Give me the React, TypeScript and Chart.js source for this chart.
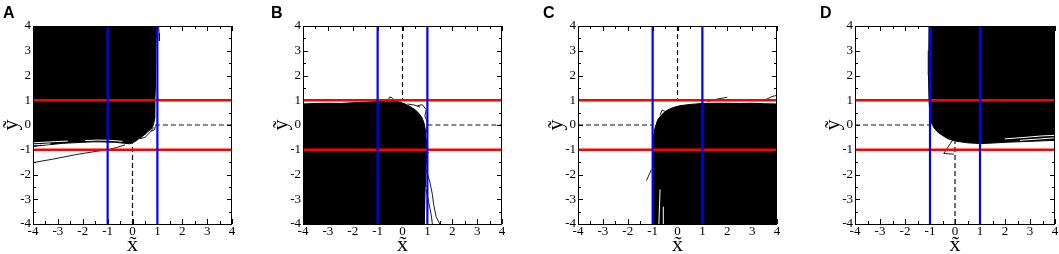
import React, { useEffect, useRef } from "react";
import { Chart, registerables } from "chart.js";

Chart.register(...registerables);

// ---------- shared axis data ----------
const TICK_VALUES = [-4, -3, -2, -1, 0, 1, 2, 3, 4];
const TICK_LABELS = ["-4", "-3", "-2", "-1", "0", "1", "2", "3", "4"];
const MINOR_TICKS = [-3.5, -2.5, -1.5, -0.5, 0.5, 1.5, 2.5, 3.5];
const RED_Y = [1, -1];
const BLUE_X = [-1, 1];
const X_TITLE = "x\u0303";
const Y_TITLE = "y\u0303";
const PANEL_LETTERS = ["A", "B", "C", "D"];

// ---------- panel A ----------
const A_FILL: number[][] = [
  [-4, 4], [0.96, 4], [0.95, 3.5], [0.94, 3], [0.93, 2.5], [0.92, 2], [0.91, 1.5], [0.9, 1],
  [0.9, 0.5], [0.88, 0.25], [0.85, 0.05], [0.8, -0.1], [0.7, -0.2], [0.62, -0.26], [0.55, -0.34],
  [0.45, -0.42], [0.35, -0.5], [0.25, -0.56], [0.15, -0.64], [0.05, -0.7], [-0.1, -0.76],
  [-0.3, -0.74], [-0.5, -0.72], [-0.7, -0.7], [-1, -0.69], [-1.3, -0.68], [-1.6, -0.68],
  [-2, -0.7], [-2.4, -0.72], [-2.8, -0.74], [-3.2, -0.78], [-3.6, -0.82], [-4, -0.87],
];
const A_WHITE: number[][][] = [
  [[-4, -0.72], [-3.6, -0.7], [-3.1, -0.67], [-2.6, -0.65]],
  [[-4, -0.8], [-3.7, -0.79], [-3.3, -0.76]],
  [[-1.9, -0.63], [-1.4, -0.61], [-0.9, -0.62], [-0.4, -0.66]],
];
const A_STRAY: number[][][] = [
  [[-4, -1.52], [-3.2, -1.38], [-2.3, -1.2], [-1.5, -1.07], [-1, -1.0], [-0.6, -0.9], [-0.3, -0.8]],
  [[1.05, 4], [1.07, 3.7], [1.08, 3.4]],
  [[0.3, -0.55], [0.5, -0.5], [0.7, -0.3], [0.85, -0.1]],
  [[0.75, -0.25], [0.88, -0.2], [0.92, -0.05]],
];
const A_DASH: number[][][] = [
  [[0, -4], [0, -0.74]],
  [[0.9, 0], [4, 0]],
];

// ---------- panel B ----------
const B_FILL: number[][] = [
  [-4, -4], [-4, 0.85], [-3.5, 0.87], [-3, 0.88], [-2.5, 0.87], [-2, 0.9], [-1.5, 0.92],
  [-1, 0.95], [-0.7, 0.98], [-0.5, 1.0], [-0.3, 0.97], [-0.1, 0.92], [0.1, 0.85], [0.3, 0.75],
  [0.5, 0.62], [0.65, 0.48], [0.78, 0.3], [0.86, 0.1], [0.92, -0.2], [0.95, -0.6], [0.96, -1.0],
  [0.95, -1.5], [0.93, -2], [0.91, -2.5], [0.9, -3], [0.88, -3.5], [0.87, -4],
];
const B_WHITE: number[][][] = [];
const B_STRAY: number[][][] = [
  [[-0.6, 0.95], [-0.52, 1.13], [-0.42, 1.1], [-0.3, 0.97]],
  [[0.2, 0.85], [0.5, 0.8], [0.7, 0.72]],
  [[0.6, 0.78], [0.8, 0.82], [0.95, 0.62], [0.9, 0.36], [1.0, 0.12], [0.97, -0.3]],
  [[0.95, -1.0], [1.05, -1.12]],
  [[0.95, -1.8], [1.1, -2.3], [1.2, -2.8], [1.25, -3.2], [1.35, -3.7], [1.5, -4]],
  [[0.95, -2.6], [1.05, -3.1], [1.15, -3.6], [1.2, -4]],
];
const B_DASH: number[][][] = [
  [[0, 4], [0, 1]],
  [[1, 0], [4, 0]],
];

// ---------- panel C ----------
const C_FILL: number[][] = [
  [4, -4], [-0.95, -4], [-0.97, -3], [-0.98, -2], [-0.97, -1], [-0.95, -0.5], [-0.9, -0.1],
  [-0.8, 0.2], [-0.65, 0.4], [-0.45, 0.58], [-0.2, 0.7], [0.1, 0.78], [0.5, 0.83], [1, 0.87],
  [1.5, 0.88], [2, 0.88], [2.5, 0.87], [3, 0.88], [3.5, 0.86], [4, 0.85],
];
const C_WHITE: number[][][] = [
  [[-0.75, -4], [-0.72, -3.2], [-0.7, -2.6]],
  [[-0.55, -4], [-0.57, -3.3]],
];
const C_STRAY: number[][][] = [
  [[1.2, 0.95], [1.6, 1.05], [2.0, 1.12]],
  [[3.5, 1.0], [3.8, 1.15], [4, 1.2]],
  [[-1.25, -2.25], [-1.05, -1.8]],
  [[-0.7, 0.4], [-0.62, 0.6], [-0.5, 0.55]],
];
const C_DASH: number[][][] = [
  [[-4, 0], [-1, 0]],
  [[0, 4], [0, 1]],
];

// ---------- panel D ----------
const D_FILL: number[][] = [
  [-1.06, 4], [4, 4], [4, -0.62], [3.5, -0.64], [3, -0.66], [2.5, -0.68], [2, -0.7],
  [1.5, -0.73], [1, -0.75], [0.5, -0.72], [0, -0.65], [-0.3, -0.55], [-0.5, -0.42],
  [-0.7, -0.28], [-0.85, -0.1], [-0.95, 0.1], [-1.0, 0.4], [-1.04, 1], [-1.06, 2], [-1.07, 3],
];
const D_WHITE: number[][][] = [
  [[2, -0.56], [2.8, -0.5], [3.5, -0.44], [4, -0.42]],
  [[2.6, -0.62], [3.3, -0.57], [4, -0.52]],
];
const D_STRAY: number[][][] = [
  [[-0.1, -0.62], [-0.45, -1.15], [-0.05, -1.18]],
];
const D_DASH: number[][][] = [
  [[-4, 0], [-1, 0]],
  [[0, -4], [0, -0.68]],
];

// ---------- layout ----------
const PANEL_PLOT_LEFT = [33, 303, 578, 855];
const PANEL_PLOT_RIGHT = [232, 502, 777, 1055];
const LETTER_LEFT = [3, 271, 543, 820];
const Y_AXIS_W = 33;
const X_AXIS_H = 30;
const PLOT_TOP = 26;
const H = 254;

const SERIF = "Liberation Serif";

Chart.defaults.font.family = SERIF;
Chart.defaults.font.size = 13;
Chart.defaults.color = "#000";

const PANELS = [
  { fill: A_FILL, white: A_WHITE, stray: A_STRAY, dash: A_DASH },
  { fill: B_FILL, white: B_WHITE, stray: B_STRAY, dash: B_DASH },
  { fill: C_FILL, white: C_WHITE, stray: C_STRAY, dash: C_DASH },
  { fill: D_FILL, white: D_WHITE, stray: D_STRAY, dash: D_DASH },
];

const toPts = (arr: number[][]) => arr.map(([x, y]) => ({ x, y }));

const framePlugin = {
  id: "frameTicks",
  beforeDatasetsDraw(chart: any) {
    const { ctx, chartArea, scales } = chart;
    const { left, right, top, bottom } = chartArea;
    const xs = scales.x;
    const ys = scales.y;
    ctx.save();
    ctx.strokeStyle = "#000";
    ctx.lineWidth = 1;
    ctx.beginPath();
    const drawTick = (v: number, len: number) => {
      const px = Math.round(xs.getPixelForValue(v)) + 0.5;
      ctx.moveTo(px, bottom);
      ctx.lineTo(px, bottom - len);
      ctx.moveTo(px, top);
      ctx.lineTo(px, top + len);
      const py = Math.round(ys.getPixelForValue(v)) + 0.5;
      ctx.moveTo(left, py);
      ctx.lineTo(left + len, py);
      ctx.moveTo(right, py);
      ctx.lineTo(right - len, py);
    };
    TICK_VALUES.forEach((v) => drawTick(v, 5));
    MINOR_TICKS.forEach((v) => drawTick(v, 3));
    ctx.stroke();
    ctx.restore();
  },
  afterDatasetsDraw(chart: any) {
    const { ctx, chartArea } = chart;
    const { left, right, top, bottom } = chartArea;
    ctx.save();
    ctx.strokeStyle = "#000";
    ctx.lineWidth = 1;
    ctx.strokeRect(left + 0.5, top + 0.5, right - left - 1, bottom - top);
    ctx.restore();
  },
};

function Panel({ idx }: { idx: number }) {
  const ref = useRef<HTMLCanvasElement | null>(null);
  const plotLeft = PANEL_PLOT_LEFT[idx];
  const plotRight = PANEL_PLOT_RIGHT[idx];
  const canvasLeft = plotLeft - Y_AXIS_W;
  const padRight = Math.min(4, 1059 - plotRight);
  const width = plotRight - canvasLeft + padRight;

  useEffect(() => {
    const p = PANELS[idx];
    const datasets: any[] = [];
    BLUE_X.forEach((v) =>
      datasets.push({
        data: toPts([[v, -4], [v, 4]]),
        borderColor: "#0000ff",
        borderWidth: 2.2,
        showLine: true,
        fill: false,
        pointRadius: 0,
        order: 0,
      })
    );
    RED_Y.forEach((v) =>
      datasets.push({
        data: toPts([[-4, v], [4, v]]),
        borderColor: "#ff0000",
        borderWidth: 2.6,
        showLine: true,
        fill: false,
        pointRadius: 0,
        order: 1,
      })
    );
    p.dash.forEach((seg) =>
      datasets.push({
        data: toPts(seg),
        borderColor: "#111",
        borderWidth: 1.2,
        borderDash: [5, 3],
        showLine: true,
        fill: false,
        pointRadius: 0,
        order: 2,
      })
    );
    p.white.forEach((seg) =>
      datasets.push({
        data: toPts(seg),
        borderColor: "#ffffff",
        borderWidth: 1,
        showLine: true,
        fill: false,
        pointRadius: 0,
        order: 3,
      })
    );
    p.stray.forEach((seg) =>
      datasets.push({
        data: toPts(seg),
        borderColor: "#000",
        borderWidth: 0.9,
        showLine: true,
        fill: false,
        pointRadius: 0,
        order: 4,
      })
    );
    datasets.push({
      data: toPts(p.fill),
      borderColor: "#000",
      backgroundColor: "#000",
      borderWidth: 1,
      showLine: true,
      fill: "shape",
      pointRadius: 0,
      order: 5,
    });

    const tickFont = { family: SERIF, size: 13 };
    const titleFont = { family: SERIF, size: 22 };
    const chart = new Chart(ref.current as HTMLCanvasElement, {
      type: "scatter",
      data: { datasets },
      plugins: [framePlugin],
      options: {
        responsive: false,
        animation: false,
        devicePixelRatio: 1,
        layout: { padding: { left: 0, right: padRight, top: PLOT_TOP, bottom: 0 } },
        plugins: {
          legend: { display: false },
          tooltip: { enabled: false },
          colors: { enabled: false },
        } as any,
        elements: { line: { tension: 0 } },
        scales: {
          x: {
            type: "linear",
            min: -4,
            max: 4,
            afterBuildTicks: (s: any) => {
              s.ticks = TICK_VALUES.map((v) => ({ value: v }));
            },
            afterFit: (s: any) => {
              s.height = X_AXIS_H;
            },
            ticks: {
              font: tickFont,
              color: "#000",
              padding: 0,
              maxRotation: 0,
              autoSkip: false,
              callback: (_v: any, i: number) => TICK_LABELS[i],
            },
            grid: { display: false, drawTicks: false },
            border: { display: false },
            title: { display: true, text: X_TITLE, font: titleFont, color: "#000", padding: { top: 0, bottom: -4 } },
          },
          y: {
            type: "linear",
            min: -4,
            max: 4,
            afterBuildTicks: (s: any) => {
              s.ticks = TICK_VALUES.map((v) => ({ value: v }));
            },
            afterFit: (s: any) => {
              s.width = Y_AXIS_W;
            },
            ticks: {
              font: tickFont,
              color: "#000",
              padding: 2,
              autoSkip: false,
              callback: (_v: any, i: number) => TICK_LABELS[i],
            },
            grid: { display: false, drawTicks: false },
            border: { display: false },
            title: { display: true, text: Y_TITLE, font: titleFont, color: "#000", padding: { top: -2, bottom: 0 } },
          },
        },
      } as any,
    });
    return () => chart.destroy();
  }, [idx]);

  return (
    <canvas
      ref={ref}
      width={width}
      height={H}
      style={{ position: "absolute", left: canvasLeft, top: 0, width, height: H }}
    />
  );
}

export default function App() {
  return (
    <div style={{ position: "absolute", left: 0, top: 0, width: 1059, height: H, background: "#fff", overflow: "hidden" }}>
      {PANELS.map((_, i) => (
        <Panel key={i} idx={i} />
      ))}
      {PANEL_LETTERS.map((L, i) => (
        <div
          key={L}
          style={{
            position: "absolute",
            left: LETTER_LEFT[i],
            top: 5,
            font: "bold 16px 'Liberation Sans', Arial, sans-serif",
            lineHeight: "16px",
            color: "#000",
          }}
        >
          {L}
        </div>
      ))}
    </div>
  );
}
